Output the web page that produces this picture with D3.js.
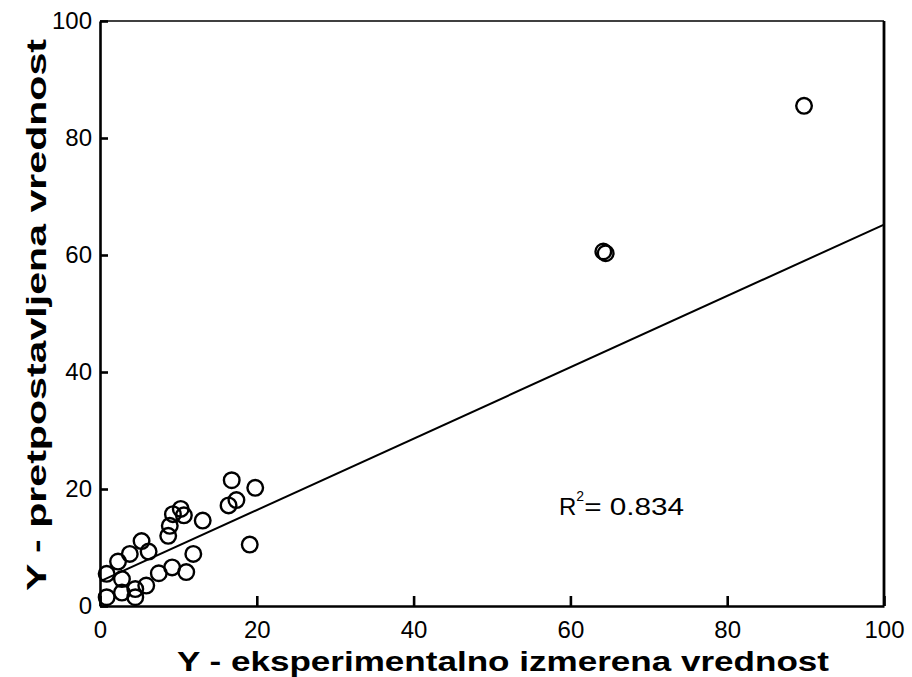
<!DOCTYPE html>
<html>
<head>
<meta charset="utf-8">
<script src="https://cdn.jsdelivr.net/npm/d3@7"></script>
<style>
  body { margin: 0; background: #fff; }
  svg { font-family: "Liberation Sans", Arial, sans-serif; }
</style>
</head>
<body>
<div id="chart"></div>
<script>
// values
var measured = [16.8, 19.8, 17.4, 16.4, 10.3, 9.3, 10.7, 8.9, 8.7, 13.1, 19.1, 5.3, 6.2, 11.9, 9.2,
                3.8, 2.3, 0.85, 2.8, 7.5, 11.0, 5.9, 4.5, 4.5, 2.8, 0.85, 64.2, 64.5, 89.8];
var predicted = [21.5, 20.2, 18.1, 17.2, 16.6, 15.7, 15.5, 13.7, 12.0, 14.6, 10.5, 11.1, 9.3, 8.9, 6.6,
                 8.9, 7.6, 5.5, 4.6, 5.6, 5.8, 3.5, 2.9, 1.5, 2.3, 1.5, 60.6, 60.3, 85.5];
var tickValues = [0, 20, 40, 60, 80, 100];
var fitSlope = 0.61;
var fitIntercept = 4.2;
var r2Label = "0.834";

var svgWidth = 912, svgHeight = 677;

var svg = d3.select("#chart")
    .append("svg")
    .attr("width", svgWidth)
    .attr("height", svgHeight);

var xScale = d3.scaleLinear().domain([0, 100]).range([100, 884]);
var yScale = d3.scaleLinear().domain([0, 100]).range([606, 21]);

// frame: top and right lines
svg.append("line")
    .attr("x1", xScale(0)).attr("x2", xScale(100))
    .attr("y1", yScale(100)).attr("y2", yScale(100))
    .attr("stroke", "#000").attr("stroke-width", 1.6);
svg.append("line")
    .attr("x1", xScale(100)).attr("x2", xScale(100))
    .attr("y1", yScale(100)).attr("y2", yScale(0))
    .attr("stroke", "#000").attr("stroke-width", 2.8);

// axes, ticks point inward
var xAxis = d3.axisBottom(xScale)
    .tickValues(tickValues)
    .tickSizeInner(-10)
    .tickSizeOuter(0)
    .tickPadding(15);
var yAxis = d3.axisLeft(yScale)
    .tickValues(tickValues)
    .tickSizeInner(-8)
    .tickSizeOuter(0)
    .tickPadding(8);

var gx = svg.append("g")
    .attr("transform", `translate(0,${yScale(0)})`)
    .call(xAxis);
var gy = svg.append("g")
    .attr("transform", `translate(${xScale(0)},0)`)
    .call(yAxis);

[gx, gy].forEach(g => {
    g.select(".domain").attr("stroke", "#000").attr("stroke-width", 2.6);
    g.selectAll(".tick line").attr("stroke", "#000").attr("stroke-width", 2.6);
    g.selectAll(".tick text")
        .attr("fill", "#000")
        .style("font-size", "24px")
        .style("font-family", "'Liberation Sans', Arial, sans-serif");
});

// regression line
svg.append("line")
    .attr("x1", xScale(0)).attr("y1", yScale(fitIntercept))
    .attr("x2", xScale(100)).attr("y2", yScale(fitIntercept + fitSlope * 100))
    .attr("stroke", "#000")
    .attr("stroke-width", 2);

// points
svg.append("g").selectAll("circle")
    .data(measured)
    .enter()
    .append("circle")
    .attr("cx", d => xScale(d))
    .attr("cy", (d, i) => yScale(predicted[i]))
    .attr("r", 7.8)
    .attr("fill", "none")
    .attr("stroke", "#000")
    .attr("stroke-width", 2.4);

// R squared note
var r2 = svg.append("text")
    .attr("x", 559)
    .attr("y", 515)
    .style("font-size", "24px")
    .attr("fill", "#000");
r2.append("tspan").text("R");
r2.append("tspan").attr("dy", -14).style("font-size", "14px").text("2");
r2.append("tspan").attr("dy", 14)
    .attr("textLength", 100)
    .attr("lengthAdjust", "spacingAndGlyphs")
    .text("= " + r2Label);

// axis titles
svg.append("text")
    .attr("x", 503)
    .attr("y", 671)
    .attr("text-anchor", "middle")
    .attr("textLength", 652)
    .attr("lengthAdjust", "spacingAndGlyphs")
    .style("font-size", "28px")
    .style("font-weight", "bold")
    .text("Y - eksperimentalno izmerena vrednost");

svg.append("text")
    .attr("transform", "translate(46,315) rotate(-90)")
    .attr("text-anchor", "middle")
    .attr("textLength", 552)
    .attr("lengthAdjust", "spacingAndGlyphs")
    .style("font-size", "28px")
    .style("font-weight", "bold")
    .text("Y - pretpostavljena vrednost");
</script>
</body>
</html>
